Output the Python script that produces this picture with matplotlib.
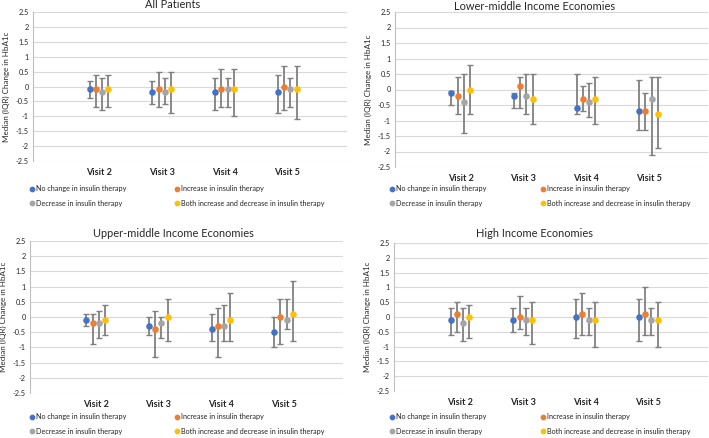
import numpy as np
import matplotlib.pyplot as plt

plt.rcParams['font.family'] = ['Lato', 'DejaVu Sans']

visits = ["Visit 2", "Visit 3", "Visit 4", "Visit 5"]
groups = ["No change in insulin therapy", "Increase in insulin therapy",
          "Decrease in insulin therapy", "Both increase and decrease in insulin therapy"]
colors = ["#4472C4", "#ED7D31", "#A5A5A5", "#FFC000"]

# median / lower quartile / upper quartile, rows = group, cols = visit
all_med = [[-0.1, -0.2, -0.2, -0.2], [-0.1, -0.1, -0.1, 0.0], [-0.2, -0.2, -0.1, -0.1], [-0.1, -0.1, -0.1, -0.1]]
all_lo = [[-0.4, -0.6, -0.8, -0.9], [-0.7, -0.7, -0.7, -0.8], [-0.8, -0.6, -0.7, -0.7], [-0.7, -0.9, -1.0, -1.1]]
all_hi = [[0.2, 0.2, 0.3, 0.4], [0.4, 0.5, 0.6, 0.7], [0.3, 0.3, 0.3, 0.3], [0.4, 0.5, 0.6, 0.7]]

low_med = [[-0.1, -0.2, -0.6, -0.7], [-0.2, 0.1, -0.3, -0.7], [-0.4, -0.2, -0.4, -0.3], [0.0, -0.3, -0.3, -0.8]]
low_lo = [[-0.5, -0.6, -0.8, -1.3], [-0.8, -0.6, -0.7, -1.3], [-1.4, -0.8, -0.9, -2.1], [-0.8, -1.1, -1.1, -1.9]]
low_hi = [[-0.05, -0.1, 0.5, 0.3], [0.4, 0.4, 0.1, -0.1], [0.5, 0.5, 0.2, 0.4], [0.8, 0.5, 0.4, 0.4]]

up_med = [[-0.1, -0.3, -0.4, -0.5], [-0.2, -0.4, -0.3, 0.0], [-0.2, -0.2, -0.3, -0.1], [-0.1, 0.0, -0.1, 0.1]]
up_lo = [[-0.3, -0.6, -0.8, -1.0], [-0.9, -1.3, -1.3, -0.9], [-0.7, -0.7, -0.8, -0.4], [-0.6, -0.8, -0.8, -0.8]]
up_hi = [[0.1, 0.0, 0.1, 0.0], [0.1, 0.2, 0.3, 0.6], [0.2, 0.0, 0.4, 0.6], [0.4, 0.6, 0.8, 1.2]]

high_med = [[-0.1, -0.1, 0.0, 0.0], [0.1, 0.0, 0.1, 0.1], [-0.2, -0.1, -0.1, -0.1], [0.0, -0.1, -0.1, -0.1]]
high_lo = [[-0.6, -0.5, -0.7, -0.8], [-0.5, -0.4, -0.6, -0.6], [-0.8, -0.6, -0.6, -0.6], [-0.7, -0.9, -1.0, -1.0]]
high_hi = [[0.3, 0.3, 0.6, 0.6], [0.5, 0.7, 0.8, 1.0], [0.3, 0.3, 0.3, 0.3], [0.4, 0.5, 0.5, 0.5]]

panels = [
    ("All Patients", all_med, all_lo, all_hi),
    ("Lower-middle Income Economies", low_med, low_lo, low_hi),
    ("Upper-middle Income Economies", up_med, up_lo, up_hi),
    ("High Income Economies", high_med, high_lo, high_hi),
]

W, H = 709, 438
fig = plt.figure(figsize=(W / 100, H / 100), dpi=100)

# axes boxes in pixels: left, right, top, bottom
boxes = [(33, 347, 12, 161), (395, 708, 12, 167), (30, 343, 241, 393), (394, 708, 243, 391)]
title_pos = [(173, 5), (535, 6), (173, 233), (535, 233)]
legend_rows = [190, 190, 418, 418]
legend_cols = [(28, 173), (388, 539), (28, 173), (388, 539)]
txt = '#262626'

offsets = [-0.15, -0.05, 0.05, 0.15]
xpos = np.arange(1, len(visits) + 1)

for i, (title, med, lo, hi) in enumerate(panels):
    l, r, t, b = boxes[i]
    ax = fig.add_axes([l / W, 1 - b / H, (r - l) / W, (b - t) / H])
    for g in range(4):
        m = np.array(med[g])
        err = [m - np.array(lo[g]), np.array(hi[g]) - m]
        ax.errorbar(xpos + offsets[g], m, yerr=err, fmt='none', ecolor='#808080',
                    elinewidth=1.3, capsize=2, capthick=1, zorder=2)
        ax.plot(xpos + offsets[g], m, 'o', color=colors[g], markersize=3.7,
                linestyle='none', zorder=3, label=groups[g])
    ax.set_xlim(-0.05, 4.95)
    ax.set_ylim(-2.5, 2.5)
    ticks = np.arange(-2.5, 2.51, 0.5)
    ax.set_yticks(ticks)
    ax.set_yticklabels([f"{v:g}" for v in ticks], fontsize=5.3, color=txt)
    ax.set_xticks(xpos)
    ax.set_xticklabels(visits, fontsize=6.5, fontweight='bold', color=txt)
    ax.tick_params(axis='both', length=0, pad=3)
    ax.tick_params(axis='x', pad=5)
    ax.grid(axis='y', color='#d9d9d9', linewidth=0.8)
    ax.set_axisbelow(True)
    for s in ['top', 'right', 'bottom']:
        ax.spines[s].set_visible(False)
    ax.spines['left'].set_color('#bfbfbf')
    ax.spines['left'].set_linewidth(0.8)
    ax.set_ylabel("Median (IQR) Change in HbA1c", fontsize=5.8, labelpad=4, color=txt)
    tx, ty = title_pos[i]
    fig.text(tx / W, 1 - ty / H, title, ha='center', va='center', fontsize=7.9, color=txt)

    # legend: two columns of two entries
    handles, labels = ax.get_legend_handles_labels()
    cols = [[0, 2], [1, 3]]
    legs = []
    for c, idx in enumerate(cols):
        x0 = legend_cols[i][c]
        y0 = legend_rows[i] - 6
        leg = ax.legend([handles[k] for k in idx], [labels[k] for k in idx],
                        loc='upper left', bbox_to_anchor=(x0 / W, 1 - y0 / H),
                        bbox_transform=fig.transFigure, frameon=False, fontsize=5.2,
                        handlelength=0.6, handletextpad=0.3, labelspacing=1.0,
                        borderaxespad=0, borderpad=0.2, markerscale=0.85,
                        labelcolor=txt)
        legs.append(leg)
    ax.add_artist(legs[0])

fig.savefig("out.png", dpi=100)
